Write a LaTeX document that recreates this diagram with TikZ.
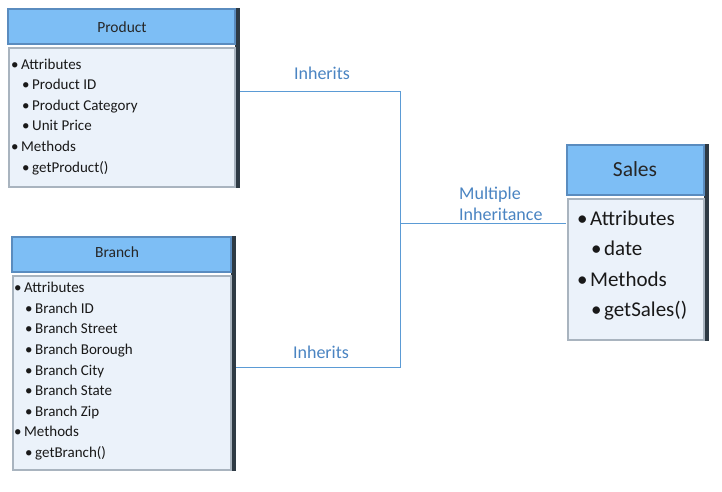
\documentclass[tikz,border=0pt]{standalone}
\usepackage{fontspec}
\setmainfont{Carlito}
\usetikzlibrary{calc}
\definecolor{hdrfill}{HTML}{7DBEF5}
\definecolor{hdrdraw}{HTML}{5A8CBF}
\definecolor{bodyfill}{HTML}{EBF2FA}
\definecolor{bodydraw}{HTML}{A9B4BF}
\definecolor{shade}{HTML}{2E3A44}
\definecolor{linkc}{HTML}{5B9BD5}
\definecolor{labc}{HTML}{4A84C2}
\tikzset{
  hdr/.style={draw=hdrdraw, fill=hdrfill, line width=1.5pt},
  bodybox/.style={draw=bodydraw, fill=bodyfill, line width=2.5pt},
  shadestrip/.style={fill=shade},
  txt/.style={inner sep=0pt, anchor=north west, align=left, text=black!90},
  link/.style={draw=linkc, line width=1pt},
  lab/.style={inner sep=0pt, text=labc, font=\fontsize{18}{21}\selectfont, align=left}
}
\newcommand{\bul}{\textbullet\hspace{2.5pt}}
\begin{document}
\begin{tikzpicture}[x=1pt,y=-1pt]
\useasboundingbox (0,0) rectangle (722,491);
\fill[white] (0,0) rectangle (722,491);
% Product
\fill[shadestrip] (235,8) rectangle (240,188);
\draw[hdr] (8,9) rectangle (235,44);
\draw[bodybox] (9,48) rectangle (235,187);
\node[inner sep=0pt, font=\fontsize{15.5}{18}\selectfont, text=black!85] (ptitle) at (122,27) {Product};
\node[txt, font=\fontsize{15}{20.6}\selectfont] (pbodytxt) at (11,58.5) {\bul Attributes\\
\hspace*{11pt}\bul Product ID\\
\hspace*{11pt}\bul Product Category\\
\hspace*{11pt}\bul Unit Price\\
\bul Methods\\
\hspace*{11pt}\bul getProduct()};
\coordinate (pbody) at (240,91);
% Branch
\fill[shadestrip] (231,236) rectangle (236,471);
\draw[hdr] (12,237) rectangle (231,272);
\draw[bodybox] (13,276) rectangle (231,470);
\node[inner sep=0pt, font=\fontsize{15.5}{18}\selectfont, text=black!85] (btitle) at (117,252) {Branch};
\node[txt, font=\fontsize{15}{20.6}\selectfont] (bbodytxt) at (14,282) {\bul Attributes\\
\hspace*{11pt}\bul Branch ID\\
\hspace*{11pt}\bul Branch Street\\
\hspace*{11pt}\bul Branch Borough\\
\hspace*{11pt}\bul Branch City\\
\hspace*{11pt}\bul Branch State\\
\hspace*{11pt}\bul Branch Zip\\
\bul Methods\\
\hspace*{11pt}\bul getBranch()};
\coordinate (bbody) at (236,367);
% Sales
\fill[shadestrip] (704,144) rectangle (709,341);
\draw[hdr] (567,145) rectangle (704,195);
\draw[bodybox] (568,199) rectangle (704,340);
\node[inner sep=0pt, font=\fontsize{21.5}{25}\selectfont, text=black!85] (stitle) at (635,169) {Sales};
\node[txt, font=\fontsize{21}{30.5}\selectfont] (sbodytxt) at (577,210.5) {\bul Attributes\\
\hspace*{14pt}\bul date\\
\bul Methods\\
\hspace*{14pt}\bul getSales()};
\coordinate (sbody) at (566,223);
% connectors
\coordinate (j1) at (400,91);
\coordinate (j2) at (400,367);
\coordinate (j3) at (400,223);
\draw[link] (pbody) -- (j1) -- (j2) -- (bbody);
\draw[link] (j3) -- (sbody);
% labels
\node[lab] (l1) at (322,73) {Inherits};
\node[lab] (l2) at (321,352) {Inherits};
\node[lab, anchor=west] (l3) at (459,203.5) {Multiple\\Inheritance};
\end{tikzpicture}
\end{document}
